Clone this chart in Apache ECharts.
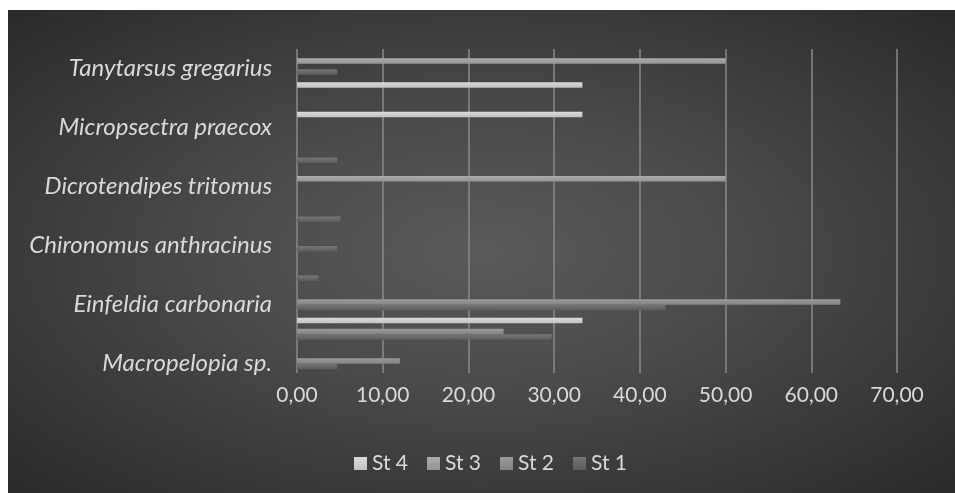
<!DOCTYPE html>
<html>
<head>
<meta charset="utf-8">
<script src="https://cdn.jsdelivr.net/npm/echarts@6/dist/echarts.min.js"></script>
<style>
  html, body { margin: 0; padding: 0; background: #ffffff; }
  #chart {
    position: absolute; left: 8px; top: 10px; width: 947px; height: 483px;
    background: radial-gradient(ellipse at 50% 50%, #5a5a5a 0%, #4b4b4b 38%, #2a2a2a 100%);
  }
</style>
</head>
<body>
<div id="chart"></div>
<script>
// Categories from bottom to top (every other label is hidden in the original chart)
const categories = ['Macropelopia sp.', '', 'Einfeldia carbonaria', '', 'Chironomus anthracinus', '', 'Dicrotendipes tritomus', '', 'Micropsectra praecox', '', 'Tanytarsus gregarius'];
const st1 = [4.7, 29.7, 43.0, 2.5, 4.7, 5.1, 0, 4.7, 0, 0, 4.7];
const st2 = [12.0, 24.1, 63.4, 0, 0, 0, 0, 0, 0, 0, 0];
const st3 = [0, 0, 0, 0, 0, 0, 50, 0, 0, 0, 50];
const st4 = [0, 33.3, 0, 0, 0, 0, 0, 0, 33.3, 33.3, 0];
const xTicks = [0, 10, 20, 30, 40, 50, 60, 70];
const legendOrder = ['St 4', 'St 3', 'St 2', 'St 1'];

// ECharts puts the first series at the top of each band, so St 4 comes first
const seriesDefs = [
  { name: 'St 4', data: st4, c: ['#dadada', '#c2c2c2'], legend: '#cfcfcf' },
  { name: 'St 3', data: st3, c: ['#ababab', '#959595'], legend: '#a6a6a6' },
  { name: 'St 2', data: st2, c: ['#9a9a9a', '#838383'], legend: '#8e8e8e' },
  { name: 'St 1', data: st1, c: ['#767676', '#5c5c5c'], legend: '#6c6c6c' }
];

const chart = echarts.init(document.getElementById('chart'), null, { renderer: 'canvas' });
const FONT = 'Lato';
chart.setOption({
  backgroundColor: 'transparent',
  animation: false,
  grid: { left: 289, right: 58, top: 39, bottom: 120 },
  legend: {
    data: legendOrder,
    left: 341, top: 438,
    itemWidth: 13, itemHeight: 13, itemGap: 19,
    icon: 'rect',
    textStyle: { color: '#d9d9d9', fontSize: 21, fontFamily: FONT }
  },
  xAxis: {
    type: 'value', min: xTicks[0], max: xTicks[xTicks.length - 1], interval: 10,
    axisLine: { show: false }, axisTick: { show: false },
    splitLine: { show: true, lineStyle: { color: '#8a8a8a', width: 1.5 } },
    axisLabel: {
      color: '#d9d9d9', fontSize: 21, fontFamily: FONT, margin: 12,
      formatter: v => v.toFixed(2).replace('.', ',')
    }
  },
  yAxis: {
    type: 'category', data: categories,
    axisLine: { show: false }, axisTick: { show: false },
    axisLabel: {
      interval: 0, margin: 25,
      formatter: v => v ? '{n|' + v + '}' : '',
      rich: { n: { color: '#d9d9d9', fontSize: 24, fontFamily: FONT, fontStyle: 'italic', padding: [9, 0, 0, 0] } }
    }
  },
  series: seriesDefs.map(s => ({
    name: s.name, type: 'bar', data: s.data,
    barWidth: 5.5, barGap: '0%',
    color: s.legend,
    itemStyle: {
      color: new echarts.graphic.LinearGradient(0, 0, 0, 1, [
        { offset: 0, color: s.c[0] },
        { offset: 1, color: s.c[1] }
      ])
    }
  }))
});
</script>
</body>
</html>
